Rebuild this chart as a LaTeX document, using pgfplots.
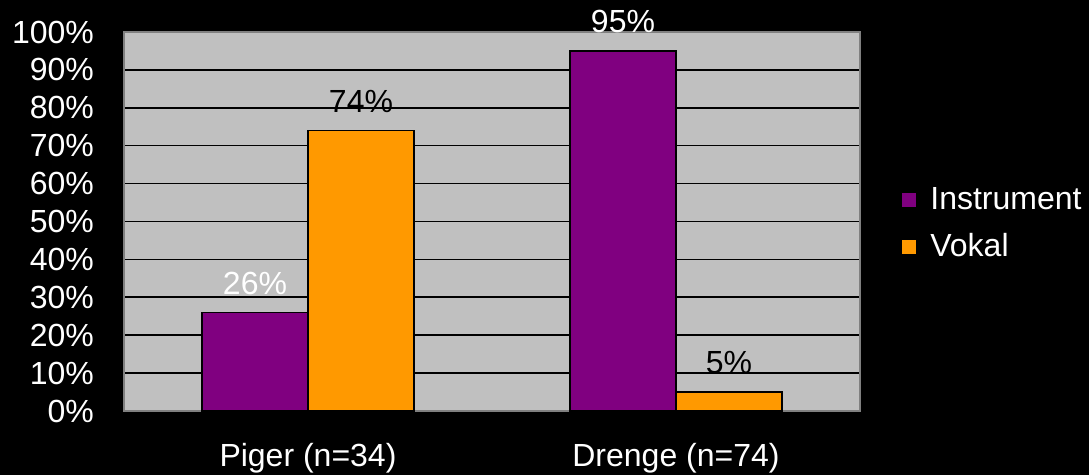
\documentclass[border=0pt]{standalone}
\usepackage{pgfplots}
\pgfplotsset{compat=1.18}
\usepackage{fontspec}
\setmainfont{Liberation Sans}

\definecolor{plotbg}{HTML}{C0C0C0}
\definecolor{instr}{HTML}{800080}
\definecolor{vokal}{HTML}{FF9900}

\begin{document}
\begin{tikzpicture}
\fill[black] (0,0) rectangle (544.5pt,237.5pt);
\useasboundingbox (0,0) rectangle (544.5pt,237.5pt);
\begin{axis}[
    at={(62pt,32pt)}, anchor=south west,
    scale only axis,
    width=368pt, height=189.5pt,
    ybar=0pt, bar width=53pt,
    xmin=-0.5, xmax=1.5,
    ymin=0, ymax=100,
    xtick={0,1},
    xticklabels={Piger (n=34), Drenge (n=74)},
    ytick={0,10,...,100},
    yticklabel={\pgfmathprintnumber{\tick}\%},
    /pgf/number format/assume math mode=true,
    major tick length=0pt,
    ymajorgrids,
    major grid style={black, line width=0.8pt},
    axis background/.style={fill=plotbg},
    axis line style={gray, line width=0.8pt},
    tick label style={font=\fontsize{16}{19}\selectfont, text=white},
    yticklabel style={xshift=-11.5pt},
    xticklabel style={yshift=-12.5pt},
    clip=false,
    nodes near coords={\pgfmathprintnumber{\pgfplotspointmeta}\%},
    every node near coord/.append style={font=\fontsize{16}{19}\selectfont, anchor=center, yshift=14.5pt},
    every axis plot/.append style={legend image code/.code={\fill[#1, draw=none] (0pt,-3.5pt) rectangle (7pt,3.5pt);}},
    legend cell align=left,
    legend style={at={(1.057,0.494)}, anchor=west, draw=none, fill=none, text=white,
        font=\fontsize{16}{19}\selectfont, inner sep=0pt, row sep=6.5pt,
        /tikz/every odd column/.style={column sep=5pt},
        /tikz/every even column/.style={column sep=4pt}},
]
\addplot[fill=instr, draw=black, line width=0.8pt, every node near coord/.append style={text=white}]
    coordinates {(0,26) (1,95)};
\addlegendentry{Instrument}
\addplot[fill=vokal, draw=black, line width=0.8pt, every node near coord/.append style={text=black}]
    coordinates {(0,74) (1,5)};
\addlegendentry{Vokal}
\end{axis}
\end{tikzpicture}
\end{document}
